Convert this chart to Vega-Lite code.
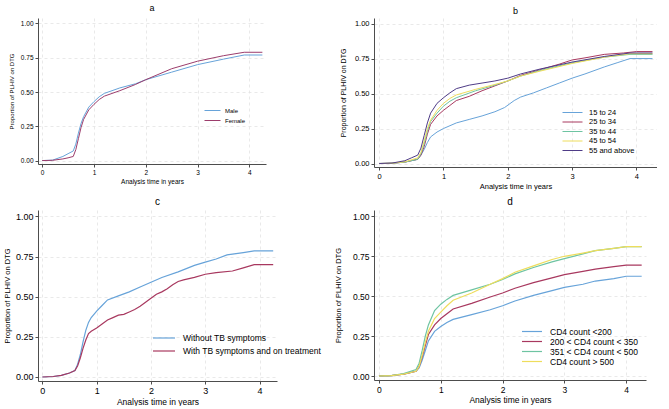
{
  "$schema": "https://vega.github.io/schema/vega-lite/v6.json",
  "padding": {"left": 3, "top": 4, "right": 0, "bottom": 0},
  "background": "white",
  "config": {
    "font": "Liberation Sans",
    "view": {"stroke": null},
    "axis": {
      "domainColor": "#4d4d4d",
      "tickColor": "#4d4d4d",
      "gridColor": "#e3e3e3",
      "gridDash": [3, 3],
      "gridWidth": 0.8,
      "labelColor": "#000000",
      "titleColor": "#000000",
      "titleFontWeight": "normal",
      "tickSize": 3,
      "labelPadding": 2
    },
    "legend": {"padding": 0, "labelColor": "#000000"},
    "title": {"fontWeight": "normal", "color": "#000000"}
  },
  "datasets": {
    "a": [
      {"t":0,"p":0,"g":"Male"},{"t":0.2,"p":0.003,"g":"Male"},{"t":0.4,"p":0.03,"g":"Male"},{"t":0.5,"p":0.05,"g":"Male"},{"t":0.6,"p":0.07,"g":"Male"},{"t":0.65,"p":0.12,"g":"Male"},{"t":0.7,"p":0.2,"g":"Male"},{"t":0.75,"p":0.27,"g":"Male"},{"t":0.8,"p":0.32,"g":"Male"},{"t":0.9,"p":0.39,"g":"Male"},{"t":1.0,"p":0.43,"g":"Male"},{"t":1.1,"p":0.465,"g":"Male"},{"t":1.2,"p":0.49,"g":"Male"},{"t":1.5,"p":0.53,"g":"Male"},{"t":1.8,"p":0.56,"g":"Male"},{"t":2.0,"p":0.59,"g":"Male"},{"t":2.5,"p":0.645,"g":"Male"},{"t":3.0,"p":0.7,"g":"Male"},{"t":3.5,"p":0.74,"g":"Male"},{"t":3.9,"p":0.77,"g":"Male"},{"t":4.25,"p":0.77,"g":"Male"},
      {"t":0,"p":0,"g":"Female"},{"t":0.2,"p":0.002,"g":"Female"},{"t":0.4,"p":0.012,"g":"Female"},{"t":0.5,"p":0.02,"g":"Female"},{"t":0.6,"p":0.03,"g":"Female"},{"t":0.65,"p":0.08,"g":"Female"},{"t":0.7,"p":0.16,"g":"Female"},{"t":0.75,"p":0.24,"g":"Female"},{"t":0.8,"p":0.3,"g":"Female"},{"t":0.9,"p":0.37,"g":"Female"},{"t":1.0,"p":0.41,"g":"Female"},{"t":1.1,"p":0.445,"g":"Female"},{"t":1.2,"p":0.47,"g":"Female"},{"t":1.5,"p":0.51,"g":"Female"},{"t":1.8,"p":0.555,"g":"Female"},{"t":2.0,"p":0.59,"g":"Female"},{"t":2.5,"p":0.67,"g":"Female"},{"t":3.0,"p":0.725,"g":"Female"},{"t":3.5,"p":0.765,"g":"Female"},{"t":3.9,"p":0.79,"g":"Female"},{"t":4.25,"p":0.79,"g":"Female"}
    ],
    "b": [
      {"t":0,"p":0,"g":"15 to 24"},{"t":0.2,"p":0.002,"g":"15 to 24"},{"t":0.4,"p":0.01,"g":"15 to 24"},{"t":0.6,"p":0.03,"g":"15 to 24"},{"t":0.65,"p":0.06,"g":"15 to 24"},{"t":0.7,"p":0.1,"g":"15 to 24"},{"t":0.75,"p":0.15,"g":"15 to 24"},{"t":0.8,"p":0.19,"g":"15 to 24"},{"t":0.9,"p":0.225,"g":"15 to 24"},{"t":1.0,"p":0.25,"g":"15 to 24"},{"t":1.2,"p":0.29,"g":"15 to 24"},{"t":1.4,"p":0.315,"g":"15 to 24"},{"t":1.6,"p":0.34,"g":"15 to 24"},{"t":1.8,"p":0.37,"g":"15 to 24"},{"t":1.95,"p":0.4,"g":"15 to 24"},{"t":2.1,"p":0.45,"g":"15 to 24"},{"t":2.2,"p":0.475,"g":"15 to 24"},{"t":2.4,"p":0.505,"g":"15 to 24"},{"t":2.6,"p":0.54,"g":"15 to 24"},{"t":2.8,"p":0.575,"g":"15 to 24"},{"t":3.0,"p":0.61,"g":"15 to 24"},{"t":3.2,"p":0.64,"g":"15 to 24"},{"t":3.5,"p":0.69,"g":"15 to 24"},{"t":3.7,"p":0.72,"g":"15 to 24"},{"t":3.9,"p":0.75,"g":"15 to 24"},{"t":4.25,"p":0.75,"g":"15 to 24"},
      {"t":0,"p":0,"g":"25 to 34"},{"t":0.2,"p":0.002,"g":"25 to 34"},{"t":0.4,"p":0.01,"g":"25 to 34"},{"t":0.6,"p":0.03,"g":"25 to 34"},{"t":0.65,"p":0.06,"g":"25 to 34"},{"t":0.7,"p":0.12,"g":"25 to 34"},{"t":0.75,"p":0.21,"g":"25 to 34"},{"t":0.8,"p":0.28,"g":"25 to 34"},{"t":0.9,"p":0.34,"g":"25 to 34"},{"t":1.0,"p":0.38,"g":"25 to 34"},{"t":1.1,"p":0.415,"g":"25 to 34"},{"t":1.2,"p":0.45,"g":"25 to 34"},{"t":1.4,"p":0.48,"g":"25 to 34"},{"t":1.6,"p":0.52,"g":"25 to 34"},{"t":1.8,"p":0.555,"g":"25 to 34"},{"t":2.0,"p":0.59,"g":"25 to 34"},{"t":2.2,"p":0.63,"g":"25 to 34"},{"t":2.5,"p":0.67,"g":"25 to 34"},{"t":2.8,"p":0.71,"g":"25 to 34"},{"t":3.0,"p":0.74,"g":"25 to 34"},{"t":3.2,"p":0.755,"g":"25 to 34"},{"t":3.5,"p":0.78,"g":"25 to 34"},{"t":3.8,"p":0.79,"g":"25 to 34"},{"t":4.0,"p":0.8,"g":"25 to 34"},{"t":4.25,"p":0.8,"g":"25 to 34"},
      {"t":0,"p":0,"g":"35 to 44"},{"t":0.2,"p":0.002,"g":"35 to 44"},{"t":0.4,"p":0.01,"g":"35 to 44"},{"t":0.6,"p":0.03,"g":"35 to 44"},{"t":0.65,"p":0.07,"g":"35 to 44"},{"t":0.7,"p":0.14,"g":"35 to 44"},{"t":0.75,"p":0.23,"g":"35 to 44"},{"t":0.8,"p":0.3,"g":"35 to 44"},{"t":0.9,"p":0.36,"g":"35 to 44"},{"t":1.0,"p":0.41,"g":"35 to 44"},{"t":1.1,"p":0.445,"g":"35 to 44"},{"t":1.2,"p":0.47,"g":"35 to 44"},{"t":1.5,"p":0.52,"g":"35 to 44"},{"t":1.8,"p":0.56,"g":"35 to 44"},{"t":2.0,"p":0.59,"g":"35 to 44"},{"t":2.2,"p":0.625,"g":"35 to 44"},{"t":2.5,"p":0.665,"g":"35 to 44"},{"t":3.0,"p":0.72,"g":"35 to 44"},{"t":3.5,"p":0.76,"g":"35 to 44"},{"t":3.9,"p":0.78,"g":"35 to 44"},{"t":4.25,"p":0.78,"g":"35 to 44"},
      {"t":0,"p":0,"g":"45 to 54"},{"t":0.2,"p":0.002,"g":"45 to 54"},{"t":0.4,"p":0.012,"g":"45 to 54"},{"t":0.6,"p":0.04,"g":"45 to 54"},{"t":0.65,"p":0.08,"g":"45 to 54"},{"t":0.7,"p":0.16,"g":"45 to 54"},{"t":0.75,"p":0.25,"g":"45 to 54"},{"t":0.8,"p":0.31,"g":"45 to 54"},{"t":0.9,"p":0.38,"g":"45 to 54"},{"t":1.0,"p":0.43,"g":"45 to 54"},{"t":1.1,"p":0.465,"g":"45 to 54"},{"t":1.2,"p":0.49,"g":"45 to 54"},{"t":1.5,"p":0.53,"g":"45 to 54"},{"t":1.8,"p":0.565,"g":"45 to 54"},{"t":2.0,"p":0.59,"g":"45 to 54"},{"t":2.2,"p":0.625,"g":"45 to 54"},{"t":2.5,"p":0.66,"g":"45 to 54"},{"t":3.0,"p":0.715,"g":"45 to 54"},{"t":3.5,"p":0.76,"g":"45 to 54"},{"t":3.9,"p":0.785,"g":"45 to 54"},{"t":4.25,"p":0.785,"g":"45 to 54"},
      {"t":0,"p":0,"g":"55 and above"},{"t":0.2,"p":0.003,"g":"55 and above"},{"t":0.4,"p":0.02,"g":"55 and above"},{"t":0.5,"p":0.04,"g":"55 and above"},{"t":0.6,"p":0.06,"g":"55 and above"},{"t":0.65,"p":0.11,"g":"55 and above"},{"t":0.7,"p":0.2,"g":"55 and above"},{"t":0.75,"p":0.29,"g":"55 and above"},{"t":0.8,"p":0.36,"g":"55 and above"},{"t":0.9,"p":0.43,"g":"55 and above"},{"t":1.0,"p":0.47,"g":"55 and above"},{"t":1.1,"p":0.505,"g":"55 and above"},{"t":1.2,"p":0.535,"g":"55 and above"},{"t":1.4,"p":0.56,"g":"55 and above"},{"t":1.6,"p":0.575,"g":"55 and above"},{"t":1.8,"p":0.59,"g":"55 and above"},{"t":2.0,"p":0.61,"g":"55 and above"},{"t":2.2,"p":0.64,"g":"55 and above"},{"t":2.5,"p":0.675,"g":"55 and above"},{"t":3.0,"p":0.725,"g":"55 and above"},{"t":3.5,"p":0.765,"g":"55 and above"},{"t":3.9,"p":0.79,"g":"55 and above"},{"t":4.25,"p":0.79,"g":"55 and above"}
    ],
    "c": [
      {"t":0,"p":0,"g":"Without TB symptoms"},{"t":0.2,"p":0.003,"g":"Without TB symptoms"},{"t":0.35,"p":0.01,"g":"Without TB symptoms"},{"t":0.5,"p":0.025,"g":"Without TB symptoms"},{"t":0.6,"p":0.04,"g":"Without TB symptoms"},{"t":0.65,"p":0.08,"g":"Without TB symptoms"},{"t":0.7,"p":0.14,"g":"Without TB symptoms"},{"t":0.75,"p":0.22,"g":"Without TB symptoms"},{"t":0.8,"p":0.29,"g":"Without TB symptoms"},{"t":0.85,"p":0.34,"g":"Without TB symptoms"},{"t":0.9,"p":0.37,"g":"Without TB symptoms"},{"t":1.0,"p":0.41,"g":"Without TB symptoms"},{"t":1.1,"p":0.445,"g":"Without TB symptoms"},{"t":1.2,"p":0.48,"g":"Without TB symptoms"},{"t":1.4,"p":0.505,"g":"Without TB symptoms"},{"t":1.6,"p":0.53,"g":"Without TB symptoms"},{"t":1.8,"p":0.56,"g":"Without TB symptoms"},{"t":2.0,"p":0.59,"g":"Without TB symptoms"},{"t":2.2,"p":0.62,"g":"Without TB symptoms"},{"t":2.5,"p":0.655,"g":"Without TB symptoms"},{"t":2.8,"p":0.695,"g":"Without TB symptoms"},{"t":3.0,"p":0.715,"g":"Without TB symptoms"},{"t":3.2,"p":0.735,"g":"Without TB symptoms"},{"t":3.4,"p":0.76,"g":"Without TB symptoms"},{"t":3.7,"p":0.775,"g":"Without TB symptoms"},{"t":3.9,"p":0.785,"g":"Without TB symptoms"},{"t":4.25,"p":0.785,"g":"Without TB symptoms"},
      {"t":0,"p":0,"g":"With TB symptoms and on treatment"},{"t":0.2,"p":0.003,"g":"With TB symptoms and on treatment"},{"t":0.35,"p":0.01,"g":"With TB symptoms and on treatment"},{"t":0.5,"p":0.025,"g":"With TB symptoms and on treatment"},{"t":0.6,"p":0.04,"g":"With TB symptoms and on treatment"},{"t":0.65,"p":0.07,"g":"With TB symptoms and on treatment"},{"t":0.7,"p":0.12,"g":"With TB symptoms and on treatment"},{"t":0.75,"p":0.18,"g":"With TB symptoms and on treatment"},{"t":0.8,"p":0.23,"g":"With TB symptoms and on treatment"},{"t":0.85,"p":0.27,"g":"With TB symptoms and on treatment"},{"t":0.9,"p":0.285,"g":"With TB symptoms and on treatment"},{"t":1.0,"p":0.305,"g":"With TB symptoms and on treatment"},{"t":1.1,"p":0.33,"g":"With TB symptoms and on treatment"},{"t":1.2,"p":0.355,"g":"With TB symptoms and on treatment"},{"t":1.3,"p":0.37,"g":"With TB symptoms and on treatment"},{"t":1.4,"p":0.385,"g":"With TB symptoms and on treatment"},{"t":1.5,"p":0.39,"g":"With TB symptoms and on treatment"},{"t":1.6,"p":0.405,"g":"With TB symptoms and on treatment"},{"t":1.7,"p":0.42,"g":"With TB symptoms and on treatment"},{"t":1.8,"p":0.44,"g":"With TB symptoms and on treatment"},{"t":1.9,"p":0.465,"g":"With TB symptoms and on treatment"},{"t":2.0,"p":0.49,"g":"With TB symptoms and on treatment"},{"t":2.1,"p":0.515,"g":"With TB symptoms and on treatment"},{"t":2.2,"p":0.53,"g":"With TB symptoms and on treatment"},{"t":2.3,"p":0.55,"g":"With TB symptoms and on treatment"},{"t":2.4,"p":0.575,"g":"With TB symptoms and on treatment"},{"t":2.5,"p":0.595,"g":"With TB symptoms and on treatment"},{"t":2.6,"p":0.605,"g":"With TB symptoms and on treatment"},{"t":2.8,"p":0.62,"g":"With TB symptoms and on treatment"},{"t":3.0,"p":0.64,"g":"With TB symptoms and on treatment"},{"t":3.2,"p":0.65,"g":"With TB symptoms and on treatment"},{"t":3.5,"p":0.66,"g":"With TB symptoms and on treatment"},{"t":3.7,"p":0.68,"g":"With TB symptoms and on treatment"},{"t":3.9,"p":0.7,"g":"With TB symptoms and on treatment"},{"t":4.25,"p":0.7,"g":"With TB symptoms and on treatment"}
    ],
    "d": [
      {"t":0,"p":0,"g":"CD4 count <200"},{"t":0.2,"p":0.003,"g":"CD4 count <200"},{"t":0.4,"p":0.012,"g":"CD4 count <200"},{"t":0.6,"p":0.03,"g":"CD4 count <200"},{"t":0.65,"p":0.05,"g":"CD4 count <200"},{"t":0.7,"p":0.1,"g":"CD4 count <200"},{"t":0.75,"p":0.16,"g":"CD4 count <200"},{"t":0.8,"p":0.22,"g":"CD4 count <200"},{"t":0.9,"p":0.28,"g":"CD4 count <200"},{"t":1.0,"p":0.31,"g":"CD4 count <200"},{"t":1.1,"p":0.335,"g":"CD4 count <200"},{"t":1.2,"p":0.355,"g":"CD4 count <200"},{"t":1.5,"p":0.385,"g":"CD4 count <200"},{"t":1.8,"p":0.415,"g":"CD4 count <200"},{"t":2.0,"p":0.44,"g":"CD4 count <200"},{"t":2.2,"p":0.47,"g":"CD4 count <200"},{"t":2.5,"p":0.505,"g":"CD4 count <200"},{"t":2.8,"p":0.535,"g":"CD4 count <200"},{"t":3.0,"p":0.555,"g":"CD4 count <200"},{"t":3.3,"p":0.575,"g":"CD4 count <200"},{"t":3.5,"p":0.595,"g":"CD4 count <200"},{"t":3.8,"p":0.61,"g":"CD4 count <200"},{"t":4.0,"p":0.625,"g":"CD4 count <200"},{"t":4.25,"p":0.625,"g":"CD4 count <200"},
      {"t":0,"p":0,"g":"200 < CD4 count  < 350"},{"t":0.2,"p":0.003,"g":"200 < CD4 count  < 350"},{"t":0.4,"p":0.012,"g":"200 < CD4 count  < 350"},{"t":0.6,"p":0.03,"g":"200 < CD4 count  < 350"},{"t":0.65,"p":0.06,"g":"200 < CD4 count  < 350"},{"t":0.7,"p":0.12,"g":"200 < CD4 count  < 350"},{"t":0.75,"p":0.19,"g":"200 < CD4 count  < 350"},{"t":0.8,"p":0.26,"g":"200 < CD4 count  < 350"},{"t":0.9,"p":0.32,"g":"200 < CD4 count  < 350"},{"t":1.0,"p":0.36,"g":"200 < CD4 count  < 350"},{"t":1.1,"p":0.39,"g":"200 < CD4 count  < 350"},{"t":1.2,"p":0.42,"g":"200 < CD4 count  < 350"},{"t":1.5,"p":0.455,"g":"200 < CD4 count  < 350"},{"t":1.8,"p":0.495,"g":"200 < CD4 count  < 350"},{"t":2.0,"p":0.52,"g":"200 < CD4 count  < 350"},{"t":2.2,"p":0.55,"g":"200 < CD4 count  < 350"},{"t":2.5,"p":0.585,"g":"200 < CD4 count  < 350"},{"t":2.8,"p":0.615,"g":"200 < CD4 count  < 350"},{"t":3.0,"p":0.635,"g":"200 < CD4 count  < 350"},{"t":3.3,"p":0.655,"g":"200 < CD4 count  < 350"},{"t":3.5,"p":0.67,"g":"200 < CD4 count  < 350"},{"t":3.8,"p":0.685,"g":"200 < CD4 count  < 350"},{"t":4.0,"p":0.695,"g":"200 < CD4 count  < 350"},{"t":4.25,"p":0.695,"g":"200 < CD4 count  < 350"},
      {"t":0,"p":0,"g":"351 < CD4 count < 500"},{"t":0.2,"p":0.003,"g":"351 < CD4 count < 500"},{"t":0.4,"p":0.015,"g":"351 < CD4 count < 500"},{"t":0.6,"p":0.04,"g":"351 < CD4 count < 500"},{"t":0.65,"p":0.08,"g":"351 < CD4 count < 500"},{"t":0.7,"p":0.16,"g":"351 < CD4 count < 500"},{"t":0.75,"p":0.25,"g":"351 < CD4 count < 500"},{"t":0.8,"p":0.32,"g":"351 < CD4 count < 500"},{"t":0.9,"p":0.41,"g":"351 < CD4 count < 500"},{"t":1.0,"p":0.45,"g":"351 < CD4 count < 500"},{"t":1.1,"p":0.48,"g":"351 < CD4 count < 500"},{"t":1.2,"p":0.505,"g":"351 < CD4 count < 500"},{"t":1.5,"p":0.54,"g":"351 < CD4 count < 500"},{"t":1.8,"p":0.575,"g":"351 < CD4 count < 500"},{"t":2.0,"p":0.605,"g":"351 < CD4 count < 500"},{"t":2.2,"p":0.64,"g":"351 < CD4 count < 500"},{"t":2.5,"p":0.68,"g":"351 < CD4 count < 500"},{"t":2.8,"p":0.715,"g":"351 < CD4 count < 500"},{"t":3.0,"p":0.735,"g":"351 < CD4 count < 500"},{"t":3.3,"p":0.765,"g":"351 < CD4 count < 500"},{"t":3.5,"p":0.785,"g":"351 < CD4 count < 500"},{"t":3.8,"p":0.8,"g":"351 < CD4 count < 500"},{"t":4.0,"p":0.81,"g":"351 < CD4 count < 500"},{"t":4.25,"p":0.81,"g":"351 < CD4 count < 500"},
      {"t":0,"p":0,"g":"CD4 count > 500"},{"t":0.2,"p":0.003,"g":"CD4 count > 500"},{"t":0.4,"p":0.012,"g":"CD4 count > 500"},{"t":0.6,"p":0.03,"g":"CD4 count > 500"},{"t":0.65,"p":0.06,"g":"CD4 count > 500"},{"t":0.7,"p":0.13,"g":"CD4 count > 500"},{"t":0.75,"p":0.21,"g":"CD4 count > 500"},{"t":0.8,"p":0.28,"g":"CD4 count > 500"},{"t":0.9,"p":0.36,"g":"CD4 count > 500"},{"t":1.0,"p":0.4,"g":"CD4 count > 500"},{"t":1.1,"p":0.44,"g":"CD4 count > 500"},{"t":1.2,"p":0.475,"g":"CD4 count > 500"},{"t":1.5,"p":0.52,"g":"CD4 count > 500"},{"t":1.8,"p":0.575,"g":"CD4 count > 500"},{"t":2.0,"p":0.61,"g":"CD4 count > 500"},{"t":2.2,"p":0.65,"g":"CD4 count > 500"},{"t":2.5,"p":0.69,"g":"CD4 count > 500"},{"t":2.8,"p":0.73,"g":"CD4 count > 500"},{"t":3.0,"p":0.75,"g":"CD4 count > 500"},{"t":3.3,"p":0.77,"g":"CD4 count > 500"},{"t":3.5,"p":0.785,"g":"CD4 count > 500"},{"t":3.8,"p":0.8,"g":"CD4 count > 500"},{"t":4.0,"p":0.81,"g":"CD4 count > 500"},{"t":4.25,"p":0.81,"g":"CD4 count > 500"}
    ]
  },
  "columns": 1,
  "spacing": 7,
  "align": "none",
  "resolve": {"scale": {"color": "independent"}, "legend": {"color": "independent"}},
  "concat": [
    {
      "spacing": 73,
      "align": "none",
      "resolve": {"scale": {"color": "independent"}, "legend": {"color": "independent"}},
      "concat": [
        {
          "title": {"text": "a", "fontSize": 9, "offset": 5},
          "width": 228, "height": 146,
          "data": {"name": "a"},
          "mark": {"type": "line", "strokeWidth": 1},
          "encoding": {
            "x": {"field": "t", "type": "quantitative", "scale": {"domain": [-0.08, 4.32], "nice": false, "zero": false},
                  "axis": {"values": [0, 1, 2, 3, 4], "title": "Analysis time in years", "labelFontSize": 6.5, "titleFontSize": 6.5, "titlePadding": 3}},
            "y": {"field": "p", "type": "quantitative", "scale": {"domain": [-0.025, 1.04], "nice": false, "zero": false},
                  "axis": {"values": [0, 0.25, 0.5, 0.75, 1], "format": ".2f", "title": "Proportion of PLHIV on DTG", "labelFontSize": 6.5, "titleFontSize": 6, "titlePadding": 6}},
            "color": {"field": "g", "type": "nominal", "sort": ["Male", "Female"],
                      "scale": {"domain": ["Male", "Female"], "range": ["#67a3d9", "#9c3d6c"]},
                      "legend": {"title": null, "orient": "none", "legendX": 166, "legendY": 88, "symbolType": "M-1,0H3", "symbolSize": 64, "symbolStrokeWidth": 1, "labelOffset": 12, "labelFontSize": 6, "rowPadding": 2}}
          }
        },
        {
          "title": {"text": "b", "fontSize": 9, "offset": 2},
          "width": 283, "height": 149,
          "data": {"name": "b"},
          "mark": {"type": "line", "strokeWidth": 1},
          "encoding": {
            "x": {"field": "t", "type": "quantitative", "scale": {"domain": [-0.08, 4.32], "nice": false, "zero": false},
                  "axis": {"values": [0, 1, 2, 3, 4], "title": "Analysis time in years", "labelFontSize": 7.5, "titleFontSize": 7.5, "titlePadding": 3}},
            "y": {"field": "p", "type": "quantitative", "scale": {"domain": [-0.025, 1.04], "nice": false, "zero": false},
                  "axis": {"values": [0, 0.25, 0.5, 0.75, 1], "format": ".2f", "title": "Proportion of PLHIV on DTG", "labelFontSize": 7.5, "titleFontSize": 7, "titlePadding": 8}},
            "color": {"field": "g", "type": "nominal", "sort": ["15 to 24", "25 to 34", "35 to 44", "45 to 54", "55 and above"],
                      "scale": {"domain": ["15 to 24", "25 to 34", "35 to 44", "45 to 54", "55 and above"], "range": ["#67a3d9", "#a8385f", "#6ec4a2", "#eedd5c", "#4f3c87"]},
                      "legend": {"title": null, "orient": "none", "legendX": 188, "legendY": 90, "symbolType": "M-1,0H4", "symbolSize": 64, "symbolStrokeWidth": 1, "labelOffset": 18, "labelFontSize": 7.5, "rowPadding": 1.5}}
          }
        }
      ]
    },
    {
      "spacing": 13,
      "align": "none",
      "resolve": {"scale": {"color": "independent"}, "legend": {"color": "independent"}},
      "concat": [
        {
          "title": {"text": "c", "fontSize": 10, "offset": 3},
          "width": 239, "height": 171,
          "data": {"name": "c"},
          "mark": {"type": "line", "strokeWidth": 1.2},
          "encoding": {
            "x": {"field": "t", "type": "quantitative", "scale": {"domain": [-0.08, 4.32], "nice": false, "zero": false},
                  "axis": {"values": [0, 1, 2, 3, 4], "title": "Analysis time in years", "labelFontSize": 9, "titleFontSize": 8.5, "titlePadding": 2}},
            "y": {"field": "p", "type": "quantitative", "scale": {"domain": [-0.025, 1.04], "nice": false, "zero": false},
                  "axis": {"values": [0, 0.25, 0.5, 0.75, 1], "format": ".2f", "title": "Proportion of PLHIV on DTG", "labelFontSize": 9, "titleFontSize": 7.5, "titlePadding": 4}},
            "color": {"field": "g", "type": "nominal", "sort": ["Without TB symptoms", "With TB symptoms and on treatment"],
                      "scale": {"domain": ["Without TB symptoms", "With TB symptoms and on treatment"], "range": ["#67a3d9", "#a8385f"]},
                      "legend": {"title": null, "orient": "none", "legendX": 114, "legendY": 123, "symbolType": "M-1,0H4.5", "symbolSize": 64, "symbolStrokeWidth": 1.2, "labelOffset": 21, "labelFontSize": 8.5, "rowPadding": 3}}
          }
        },
        {
          "title": {"text": "d", "fontSize": 10, "offset": 3},
          "width": 272, "height": 170,
          "data": {"name": "d"},
          "mark": {"type": "line", "strokeWidth": 1.2},
          "encoding": {
            "x": {"field": "t", "type": "quantitative", "scale": {"domain": [-0.08, 4.32], "nice": false, "zero": false},
                  "axis": {"values": [0, 1, 2, 3, 4], "title": "Analysis time in years", "labelFontSize": 8.5, "titleFontSize": 8.5, "titlePadding": 2}},
            "y": {"field": "p", "type": "quantitative", "scale": {"domain": [-0.025, 1.04], "nice": false, "zero": false},
                  "axis": {"values": [0, 0.25, 0.5, 0.75, 1], "format": ".2f", "title": "Proportion of PLHIV on DTG", "labelFontSize": 8.5, "titleFontSize": 7.5, "titlePadding": 10}},
            "color": {"field": "g", "type": "nominal", "sort": ["CD4 count <200", "200 < CD4 count  < 350", "351 < CD4 count < 500", "CD4 count > 500"],
                      "scale": {"domain": ["CD4 count <200", "200 < CD4 count  < 350", "351 < CD4 count < 500", "CD4 count > 500"], "range": ["#67a3d9", "#a8385f", "#6ec4a2", "#eedd5c"]},
                      "legend": {"title": null, "orient": "none", "legendX": 147, "legendY": 116.5, "symbolType": "M-1,0H4", "symbolSize": 64, "symbolStrokeWidth": 1.2, "labelOffset": 19, "labelFontSize": 8.5, "rowPadding": 0}}
          }
        }
      ]
    }
  ]
}
